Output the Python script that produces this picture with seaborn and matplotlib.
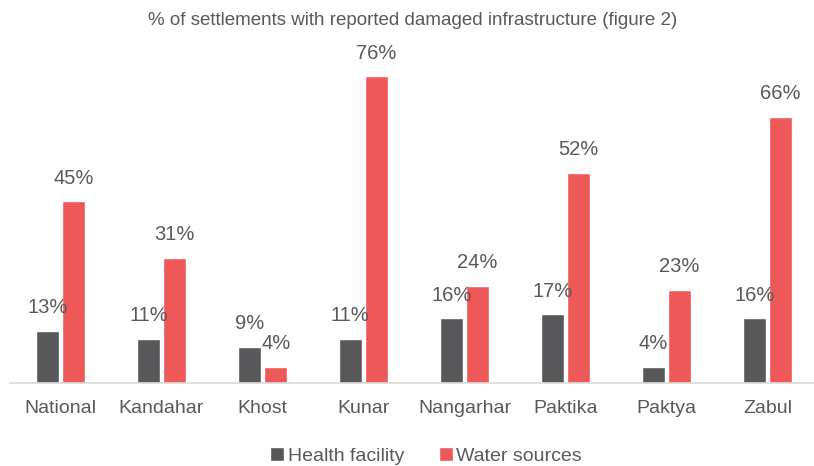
import pandas as pd
import matplotlib.pyplot as plt
import seaborn as sns

regions = ['National', 'Kandahar', 'Khost', 'Kunar', 'Nangarhar', 'Paktika', 'Paktya', 'Zabul']
health = [13, 11, 9, 11, 16, 17, 4, 16]
water = [45, 31, 4, 76, 24, 52, 23, 66]
series = ['Health facility', 'Water sources']
colors = ['#58585A', '#EE5859']

df = pd.DataFrame({
    'region': regions * 2,
    'value': health + water,
    'series': [series[0]] * len(regions) + [series[1]] * len(regions),
})

sns.set_style('white')
plt.rcParams['font.family'] = ['Liberation Sans', 'DejaVu Sans']
txt = '#595959'

fig = plt.figure(figsize=(8.14, 4.66), dpi=100)
ax = fig.add_axes([0.0123, 0.178, 0.9926, 0.736])
sns.barplot(data=df, x='region', y='value', hue='series', palette=colors,
            width=0.52, gap=0.15, saturation=1, ax=ax)

for c in ax.containers:
    ax.bar_label(c, labels=[f'{v:.0f}%' for v in c.datavalues], padding=10,
                 fontsize=14.5, color=txt)

ax.set_ylim(0, 85)
ax.set_xlim(-0.5, 7.5)
ax.set_xlabel('')
ax.set_ylabel('')
ax.set_yticks([])
for s in ['top', 'right', 'left']:
    ax.spines[s].set_visible(False)
ax.spines['bottom'].set_color('#D9D9D9')
ax.spines['bottom'].set_linewidth(1.2)
ax.tick_params(axis='x', length=0, pad=12, labelsize=14, labelcolor=txt)

fig.text(0.507, 0.955, '% of settlements with reported damaged infrastructure (figure 2)',
         ha='center', va='center', fontsize=13.5, color=txt)

leg = ax.legend(loc='lower center', bbox_to_anchor=(0.515, -0.29), ncol=2, frameon=False,
                fontsize=14, handlelength=0.7, handleheight=0.7, handletextpad=0.2,
                columnspacing=1.8)
for t in leg.get_texts():
    t.set_color(txt)

fig.savefig('out.png', dpi=100)
